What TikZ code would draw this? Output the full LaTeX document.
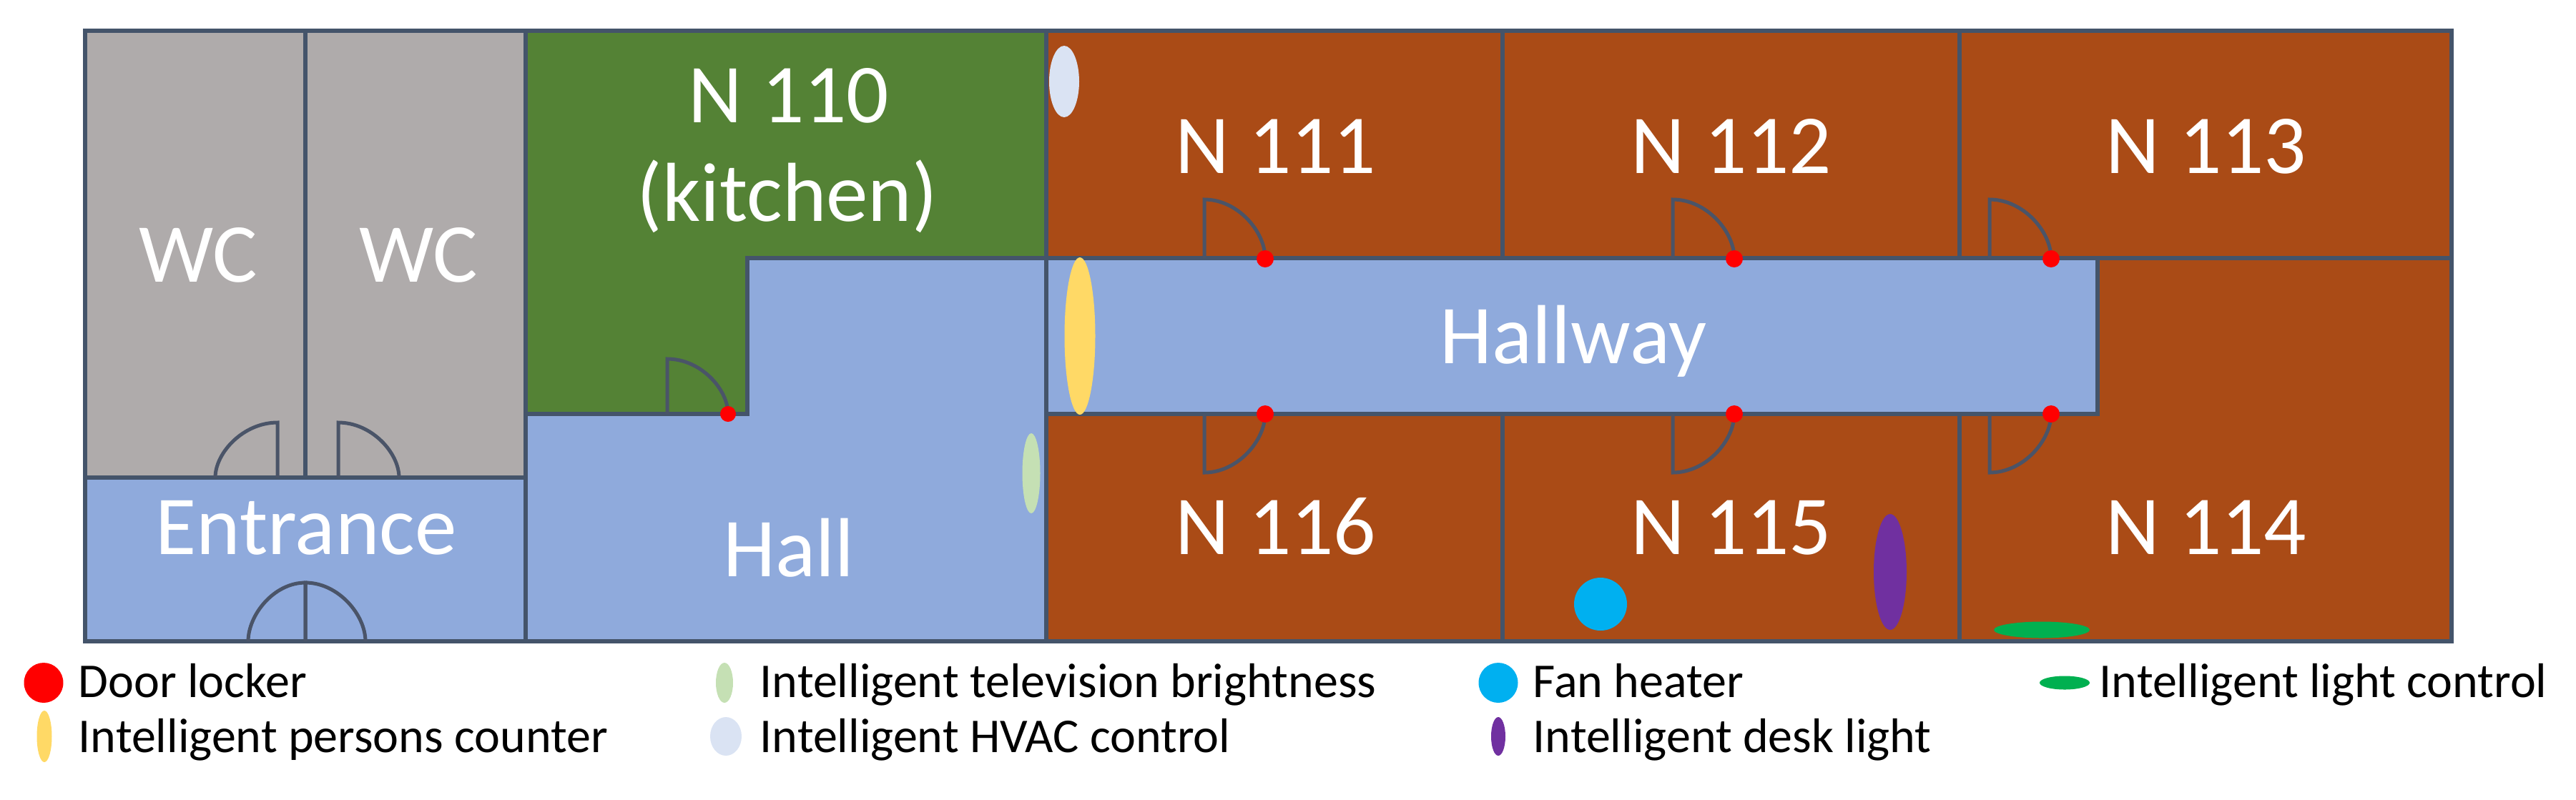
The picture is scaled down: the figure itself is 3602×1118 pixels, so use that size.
\documentclass[tikz,border=0pt]{standalone}
\usepackage{fontspec}
\setmainfont{Carlito}
\usetikzlibrary{shapes.geometric}
\definecolor{wall}{HTML}{44546A}
\definecolor{doorc}{HTML}{4A5468}
\definecolor{brownroom}{HTML}{AA4B16}
\definecolor{greenroom}{HTML}{548235}
\definecolor{blueroom}{HTML}{8FAADC}
\definecolor{greyroom}{HTML}{AFABAB}
\definecolor{cyel}{HTML}{FFD966}
\definecolor{chvac}{HTML}{DAE3F3}
\definecolor{ctv}{HTML}{C5E0B4}
\definecolor{cfan}{HTML}{00B0F0}
\definecolor{cpur}{HTML}{7030A0}
\definecolor{cgrn}{HTML}{00B050}
\tikzset{
  room/.style={draw=wall,line width=1.5pt,line join=miter},
  doorline/.style={draw=doorc,line width=1.25pt},
  roomlabel/.style={text=white,font=\fontsize{29.3}{29.3}\selectfont,anchor=base,inner sep=0pt},
  legendlabel/.style={text=black,font=\fontsize{17}{17}\selectfont,anchor=base west,inner sep=0pt},
  devicemark/.style={ellipse,inner sep=0pt,draw=none}
}
% hinge x, wall y, signed width, signed depth
\newcommand{\doorswing}[4]{%
  \draw[doorline] (#1,#2) -- (#1,#2+#4) .. controls (#1+0.55*#3,#2+#4) and (#1+#3,#2+0.45*#4) .. (#1+#3,#2);}
% name, x, y, rx, ry, colour
\newcommand{\devmark}[6]{%
  \node[devicemark,fill=#6,minimum width=#4*0.5pt,minimum height=#5*0.5pt] (#1) at (#2,#3) {};}
\begin{document}
\begin{tikzpicture}[x=0.25pt,y=-0.25pt]
\useasboundingbox (0,0) rectangle (3602,1118);
% rooms
\path[room,fill=greyroom] (119,43) rectangle (427,668);
\path[room,fill=greyroom] (427,43) rectangle (735,668);
\path[room,fill=blueroom] (119,668) rectangle (735,897);
\path[room,fill=greenroom] (735,43) -- (1463,43) -- (1463,361) -- (1045,361) -- (1045,579) -- (735,579) -- cycle;
\path[room,fill=blueroom] (735,579) -- (1045,579) -- (1045,361) -- (1463,361) -- (1463,897) -- (735,897) -- cycle;
\path[room,fill=brownroom] (1463,43) rectangle (2101,361);
\path[room,fill=brownroom] (2101,43) rectangle (2740,361);
\path[room,fill=brownroom] (2740,43) rectangle (3428,361);
\path[room,fill=blueroom] (1463,361) rectangle (2933,579);
\path[room,fill=brownroom] (1463,579) rectangle (2101,897);
\path[room,fill=brownroom] (2101,579) rectangle (2740,897);
\path[room,fill=brownroom] (2740,579) -- (2933,579) -- (2933,361) -- (3428,361) -- (3428,897) -- (2740,897) -- cycle;
% doors
\doorswing{388}{668}{-87}{-77}
\doorswing{473}{668}{85}{-77}
\doorswing{427}{897}{-80}{-82}
\doorswing{427}{897}{84}{-82}
\doorswing{933}{579}{85}{-77}
\doorswing{1684}{361}{85}{-82}
\doorswing{2339}{361}{86}{-82}
\doorswing{2782}{361}{86}{-82}
\doorswing{1684}{579}{85}{82}
\doorswing{2339}{579}{86}{82}
\doorswing{2782}{579}{86}{82}
% door lockers
\devmark{lockA}{1018}{579}{11}{11}{red}
\devmark{lockB}{1769}{362}{12}{12}{red}
\devmark{lockC}{2425}{362}{12}{12}{red}
\devmark{lockD}{2868}{362}{12}{12}{red}
\devmark{lockE}{1769}{579}{12}{12}{red}
\devmark{lockF}{2425}{579}{12}{12}{red}
\devmark{lockG}{2868}{579}{12}{12}{red}
% devices
\devmark{hvac}{1488}{114}{21}{50}{chvac}
\devmark{counter}{1510}{470}{21.5}{110}{cyel}
\devmark{tv}{1442}{662}{12.5}{56}{ctv}
\devmark{fan}{2238}{845}{37}{37}{cfan}
\devmark{desk}{2643}{800}{23}{81}{cpur}
\devmark{lightctl}{2855}{881}{67}{11.5}{cgrn}
% room labels
\node[roomlabel] (wca) at (277,394) {WC};
\node[roomlabel] (wcb) at (585,394) {WC};
\node[roomlabel] (n110) at (1103,171) {N 110};
\node[roomlabel] (kitchen) at (1101,309) {(kitchen)};
\node[roomlabel] (entrance) at (428,775) {Entrance};
\node[roomlabel] (hall) at (1103,806) {Hall};
\node[roomlabel] (hallway) at (2200,508) {Hallway};
\node[roomlabel] (n111) at (1784,242) {N 111};
\node[roomlabel] (n112) at (2421,242) {N 112};
\node[roomlabel] (n113) at (3085,242) {N 113};
\node[roomlabel] (n116) at (1784,775) {N 116};
\node[roomlabel] (n115) at (2421,775) {N 115};
\node[roomlabel] (n114) at (3085,775) {N 114};
% legend
\devmark{lgLock}{61}{955}{27.5}{28}{red}
\devmark{lgCounter}{62}{1030}{10.5}{36}{cyel}
\devmark{lgTv}{1013}{955}{12}{28}{ctv}
\devmark{lgHvac}{1015}{1030}{22}{27}{chvac}
\devmark{lgFan}{2095}{955}{27.5}{28}{cfan}
\devmark{lgDesk}{2095}{1030}{10}{27}{cpur}
\devmark{lgLight}{2887}{955}{35}{9.5}{cgrn}
\node[legendlabel] (tLock) at (109,975) {Door locker};
\node[legendlabel] (tCounter) at (109,1052) {Intelligent persons counter};
\node[legendlabel] (tTv) at (1062,975) {Intelligent television brightness};
\node[legendlabel] (tHvac) at (1062,1052) {Intelligent HVAC control};
\node[legendlabel] (tFan) at (2143,975) {Fan heater};
\node[legendlabel] (tDesk) at (2143,1052) {Intelligent desk light};
\node[legendlabel] (tLight) at (2935,975) {Intelligent light control};
\end{tikzpicture}
\end{document}
